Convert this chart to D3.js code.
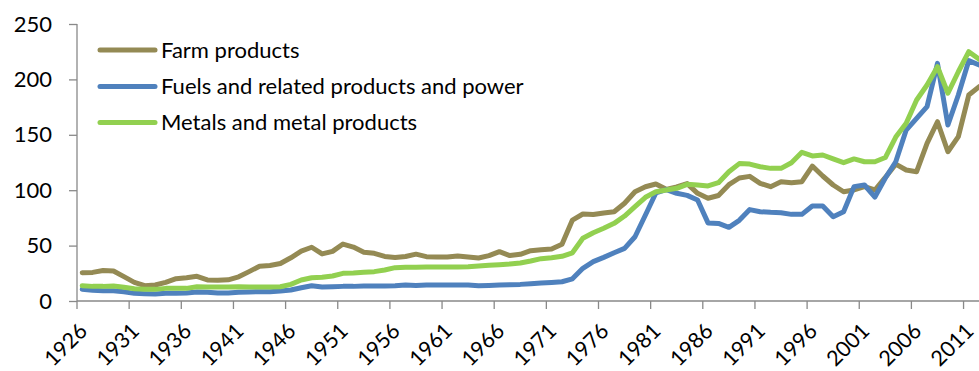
<!DOCTYPE html>
<html>
<head>
<meta charset="utf-8">
<script src="https://cdn.jsdelivr.net/npm/d3@7/dist/d3.min.js"></script>
<style>
  html, body { margin: 0; padding: 0; background: #fff; }
  svg { display: block; }
  text { font-family: Lato, "Open Sans", sans-serif; fill: #000; }
</style>
</head>
<body>
<svg id="chart" width="979" height="371"></svg>
<script>
// Producer price indexes by commodity group, 1926-2012
const years = d3.range(1926, 2013);

const farmProducts = [
  25.5, 25.8, 27.5, 27.1, 22.0, 16.8, 13.8, 14.4, 16.8, 20.1,
  21.0, 22.3, 19.0, 18.7, 19.1, 21.8, 26.5, 31.4, 32.0, 33.8,
  39.0, 45.0, 48.5, 42.5, 44.8, 51.4, 48.7, 44.0, 43.0, 40.2,
  39.3, 40.2, 42.3, 40.0, 39.7, 39.7, 40.6, 39.7, 38.8, 40.9,
  44.5, 41.0, 42.1, 45.4, 46.3, 46.9, 51.2, 73.0, 78.5, 78.0,
  79.5, 80.5, 88.2, 98.6, 103.1, 105.6, 100.8, 103.0, 106.0, 97.2,
  92.7, 95.2, 105.0, 111.0, 112.5, 106.2, 103.2, 107.7, 106.8, 107.7,
  121.8, 112.8, 104.7, 98.6, 100.2, 103.2, 100.2, 111.5, 123.5, 118.2,
  116.7, 142.3, 161.8, 134.7, 148.3, 185.9, 193.4
];

const fuelsAndPower = [
  10.5, 9.6, 9.3, 9.3, 8.4, 6.9, 6.6, 6.3, 6.9, 7.0,
  7.2, 8.1, 7.8, 7.2, 7.2, 7.8, 8.1, 8.4, 8.4, 9.0,
  9.9, 12.0, 13.8, 12.6, 12.9, 13.2, 13.2, 13.5, 13.5, 13.5,
  13.8, 14.4, 14.1, 14.4, 14.4, 14.4, 14.4, 14.4, 13.8, 14.1,
  14.4, 14.7, 15.0, 15.6, 16.2, 16.8, 17.4, 20.0, 29.5, 35.5,
  39.4, 43.6, 47.5, 58.0, 77.6, 97.5, 100.5, 97.2, 95.3, 91.2,
  70.5, 70.0, 66.5, 72.8, 82.5, 80.6, 80.0, 79.7, 78.2, 78.2,
  85.7, 85.7, 76.1, 80.6, 103.2, 104.7, 93.8, 111.0, 125.7, 154.3,
  164.9, 175.4, 214.5, 158.8, 185.9, 216.9, 213.0
];

const metalsProducts = [
  13.8, 13.2, 13.2, 13.5, 12.4, 11.1, 10.5, 10.5, 11.4, 11.4,
  11.4, 12.9, 12.6, 12.6, 12.6, 12.9, 12.6, 12.6, 12.6, 12.9,
  15.0, 19.0, 21.0, 21.4, 22.6, 25.0, 25.3, 25.9, 26.5, 28.0,
  30.1, 30.4, 30.4, 30.7, 30.7, 30.7, 30.7, 31.0, 31.6, 32.2,
  32.8, 33.4, 34.3, 36.1, 38.2, 39.1, 40.3, 43.5, 56.6, 61.6,
  65.6, 70.1, 76.7, 85.1, 93.6, 98.6, 100.2, 101.7, 105.3, 104.7,
  103.8, 106.8, 116.7, 124.0, 123.6, 121.2, 119.7, 119.7, 124.8, 134.2,
  130.9, 131.8, 128.2, 124.8, 128.2, 125.7, 125.7, 129.5, 148.0, 160.4,
  181.4, 194.9, 211.5, 187.5, 206.9, 225.0, 218.1
];

const seriesNames = ["Farm products", "Fuels and related products and power", "Metals and metal products"];
const seriesColors = ["#948A54", "#4F81BD", "#92D050"];
const seriesValues = [farmProducts, fuelsAndPower, metalsProducts];

const yTicks = [0, 50, 100, 150, 200, 250];
const xTickYears = d3.range(1926, 2013, 5);

const svg = d3.select("#chart");
const axisColor = "#898989";

// Category axis: one band per year, points drawn at band centres
const x = d3.scaleBand().domain(years).range([77, 77 + years.length * 10.43]).padding(0);
const xc = yr => x(yr) + x.bandwidth() / 2;
const y = d3.scaleLinear().domain([0, 250]).range([301, 24]);

// Value axis
const yAxis = svg.append("g")
  .attr("transform", "translate(77,0)")
  .call(d3.axisLeft(y).tickValues(yTicks).tickSize(8).tickPadding(17).tickFormat(d3.format("d")));
yAxis.select(".domain").attr("stroke", axisColor).attr("stroke-width", 1.3).attr("d", `M0,${y(250)}V${y(0)}`);
yAxis.selectAll(".tick line").attr("stroke", axisColor).attr("stroke-width", 1.3);
yAxis.selectAll(".tick text")
  .style("font-family", "Lato, 'Open Sans', sans-serif")
  .style("font-size", "22px").attr("fill", "#000");

// Category axis line, ticks and rotated year labels
const xAxis = svg.append("g");
xAxis.append("line")
  .attr("x1", 77).attr("x2", 979)
  .attr("y1", y(0)).attr("y2", y(0))
  .attr("stroke", axisColor).attr("stroke-width", 1.3);
xAxis.selectAll("line.tick")
  .data(xTickYears)
  .join("line")
  .attr("class", "tick")
  .attr("x1", d => x(d)).attr("x2", d => x(d))
  .attr("y1", y(0)).attr("y2", y(0) + 8)
  .attr("stroke", axisColor).attr("stroke-width", 1.3);
xAxis.selectAll("text")
  .data(xTickYears)
  .join("text")
  .attr("transform", d => `translate(${xc(d) + 1},327) rotate(-45)`)
  .attr("text-anchor", "end")
  .attr("dy", "0.35em")
  .style("font-size", "21.5px")
  .text(d => d);

// Series lines
const line = d3.line()
  .x((d, i) => xc(years[i]))
  .y(d => y(d));

svg.append("g")
  .selectAll("path")
  .data(seriesValues)
  .join("path")
  .attr("d", d => line(d))
  .attr("fill", "none")
  .attr("stroke", (d, i) => seriesColors[i])
  .attr("stroke-width", 5)
  .attr("stroke-linejoin", "round")
  .attr("stroke-linecap", "round");

// Legend
const legend = svg.append("g");
const legendY = [50, 86.5, 122.5];
seriesNames.forEach((name, i) => {
  legend.append("line")
    .attr("x1", 100).attr("x2", 155)
    .attr("y1", legendY[i]).attr("y2", legendY[i])
    .attr("stroke", seriesColors[i])
    .attr("stroke-width", 5)
    .attr("stroke-linecap", "round");
  legend.append("text")
    .attr("x", 161)
    .attr("y", legendY[i] + 7.5)
    .style("font-size", "22px")
    .text(name);
});
</script>
</body>
</html>
